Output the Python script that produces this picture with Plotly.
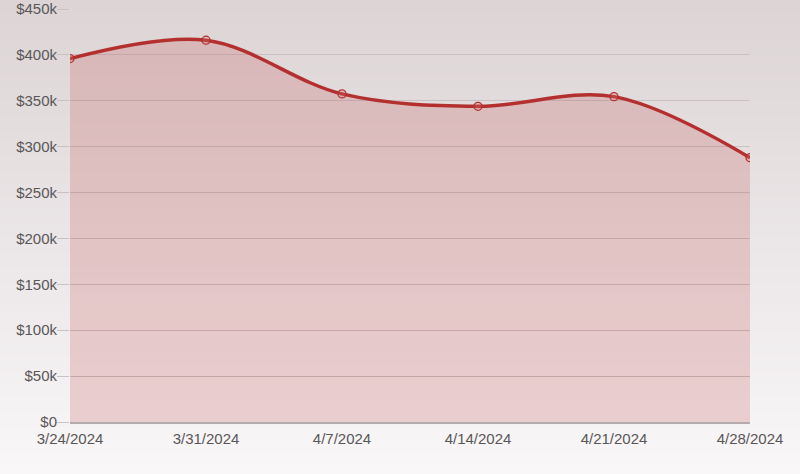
import plotly.graph_objects as go

dates = ["2024-03-24", "2024-03-31", "2024-04-07", "2024-04-14", "2024-04-21", "2024-04-28"]
date_labels = ["3/24/2024", "3/31/2024", "4/7/2024", "4/14/2024", "4/21/2024", "4/28/2024"]
prices = [396000, 416000, 357500, 344000, 354500, 288000]
y_ticks = [0, 50000, 100000, 150000, 200000, 250000, 300000, 350000, 400000, 450000]
y_tick_labels = ["$0" if v == 0 else "$%dk" % (v // 1000) for v in y_ticks]

LINE = "#b3302f"

fig = go.Figure()
fig.add_trace(go.Scatter(
    x=dates, y=prices, mode="lines+markers",
    line=dict(color=LINE, width=3.5, shape="spline", smoothing=1.0),
    marker=dict(size=8, color="rgba(210,120,120,0.25)", line=dict(color=LINE, width=1.3)),
    fill="tozeroy", fillcolor="rgba(190,60,60,0.2)",
    hoverinfo="skip", showlegend=False,
))

# background vertical gradient (figure-wide)
shapes = []
n = 150
top = (220, 212, 213)
bot = (249, 247, 248)
y_hi = 1 + 9 / 413
y_lo = -52 / 413
for i in range(n):
    t = i / (n - 1)
    c = tuple(round(top[k] + (bot[k] - top[k]) * t) for k in range(3))
    yt = y_hi - (y_hi - y_lo) * i / n
    yb = y_hi - (y_hi - y_lo) * (i + 1) / n
    if i == n - 1:
        yb = -0.5
    if i == 0:
        yt = 1.5
    shapes.append(dict(type="rect", xref="paper", yref="paper", x0=-0.5, x1=1.5,
                       y0=yb - 0.002, y1=yt, fillcolor="rgb(%d,%d,%d)" % c,
                       line=dict(width=0), layer="below"))

fig.update_layout(
    width=800, height=474,
    margin=dict(l=70, r=50, t=9, b=52, autoexpand=False),
    paper_bgcolor="#f4f1f2", plot_bgcolor="rgba(0,0,0,0)",
    shapes=shapes,
    font=dict(family="Liberation Sans, Arial, sans-serif", size=15, color="#595758"),
    xaxis=dict(
        type="date", range=["2024-03-24", "2024-04-28"],
        tickvals=dates, ticktext=date_labels, showgrid=False,
        showline=True, linecolor="#b3abad", linewidth=1.5, zeroline=False,
        ticks="", ticklabelstandoff=2, automargin=False,
    ),
    yaxis=dict(
        range=[0, 450000], tickvals=y_ticks, ticktext=y_tick_labels,
        showgrid=True, gridcolor="#c9c1c3", gridwidth=1, zeroline=False,
        ticks="outside", ticklen=12, tickcolor="#c9c1c3", tickwidth=1,
        showline=False, ticklabelstandoff=-3, automargin=False,
    ),
)

fig.write_html("out.html")
